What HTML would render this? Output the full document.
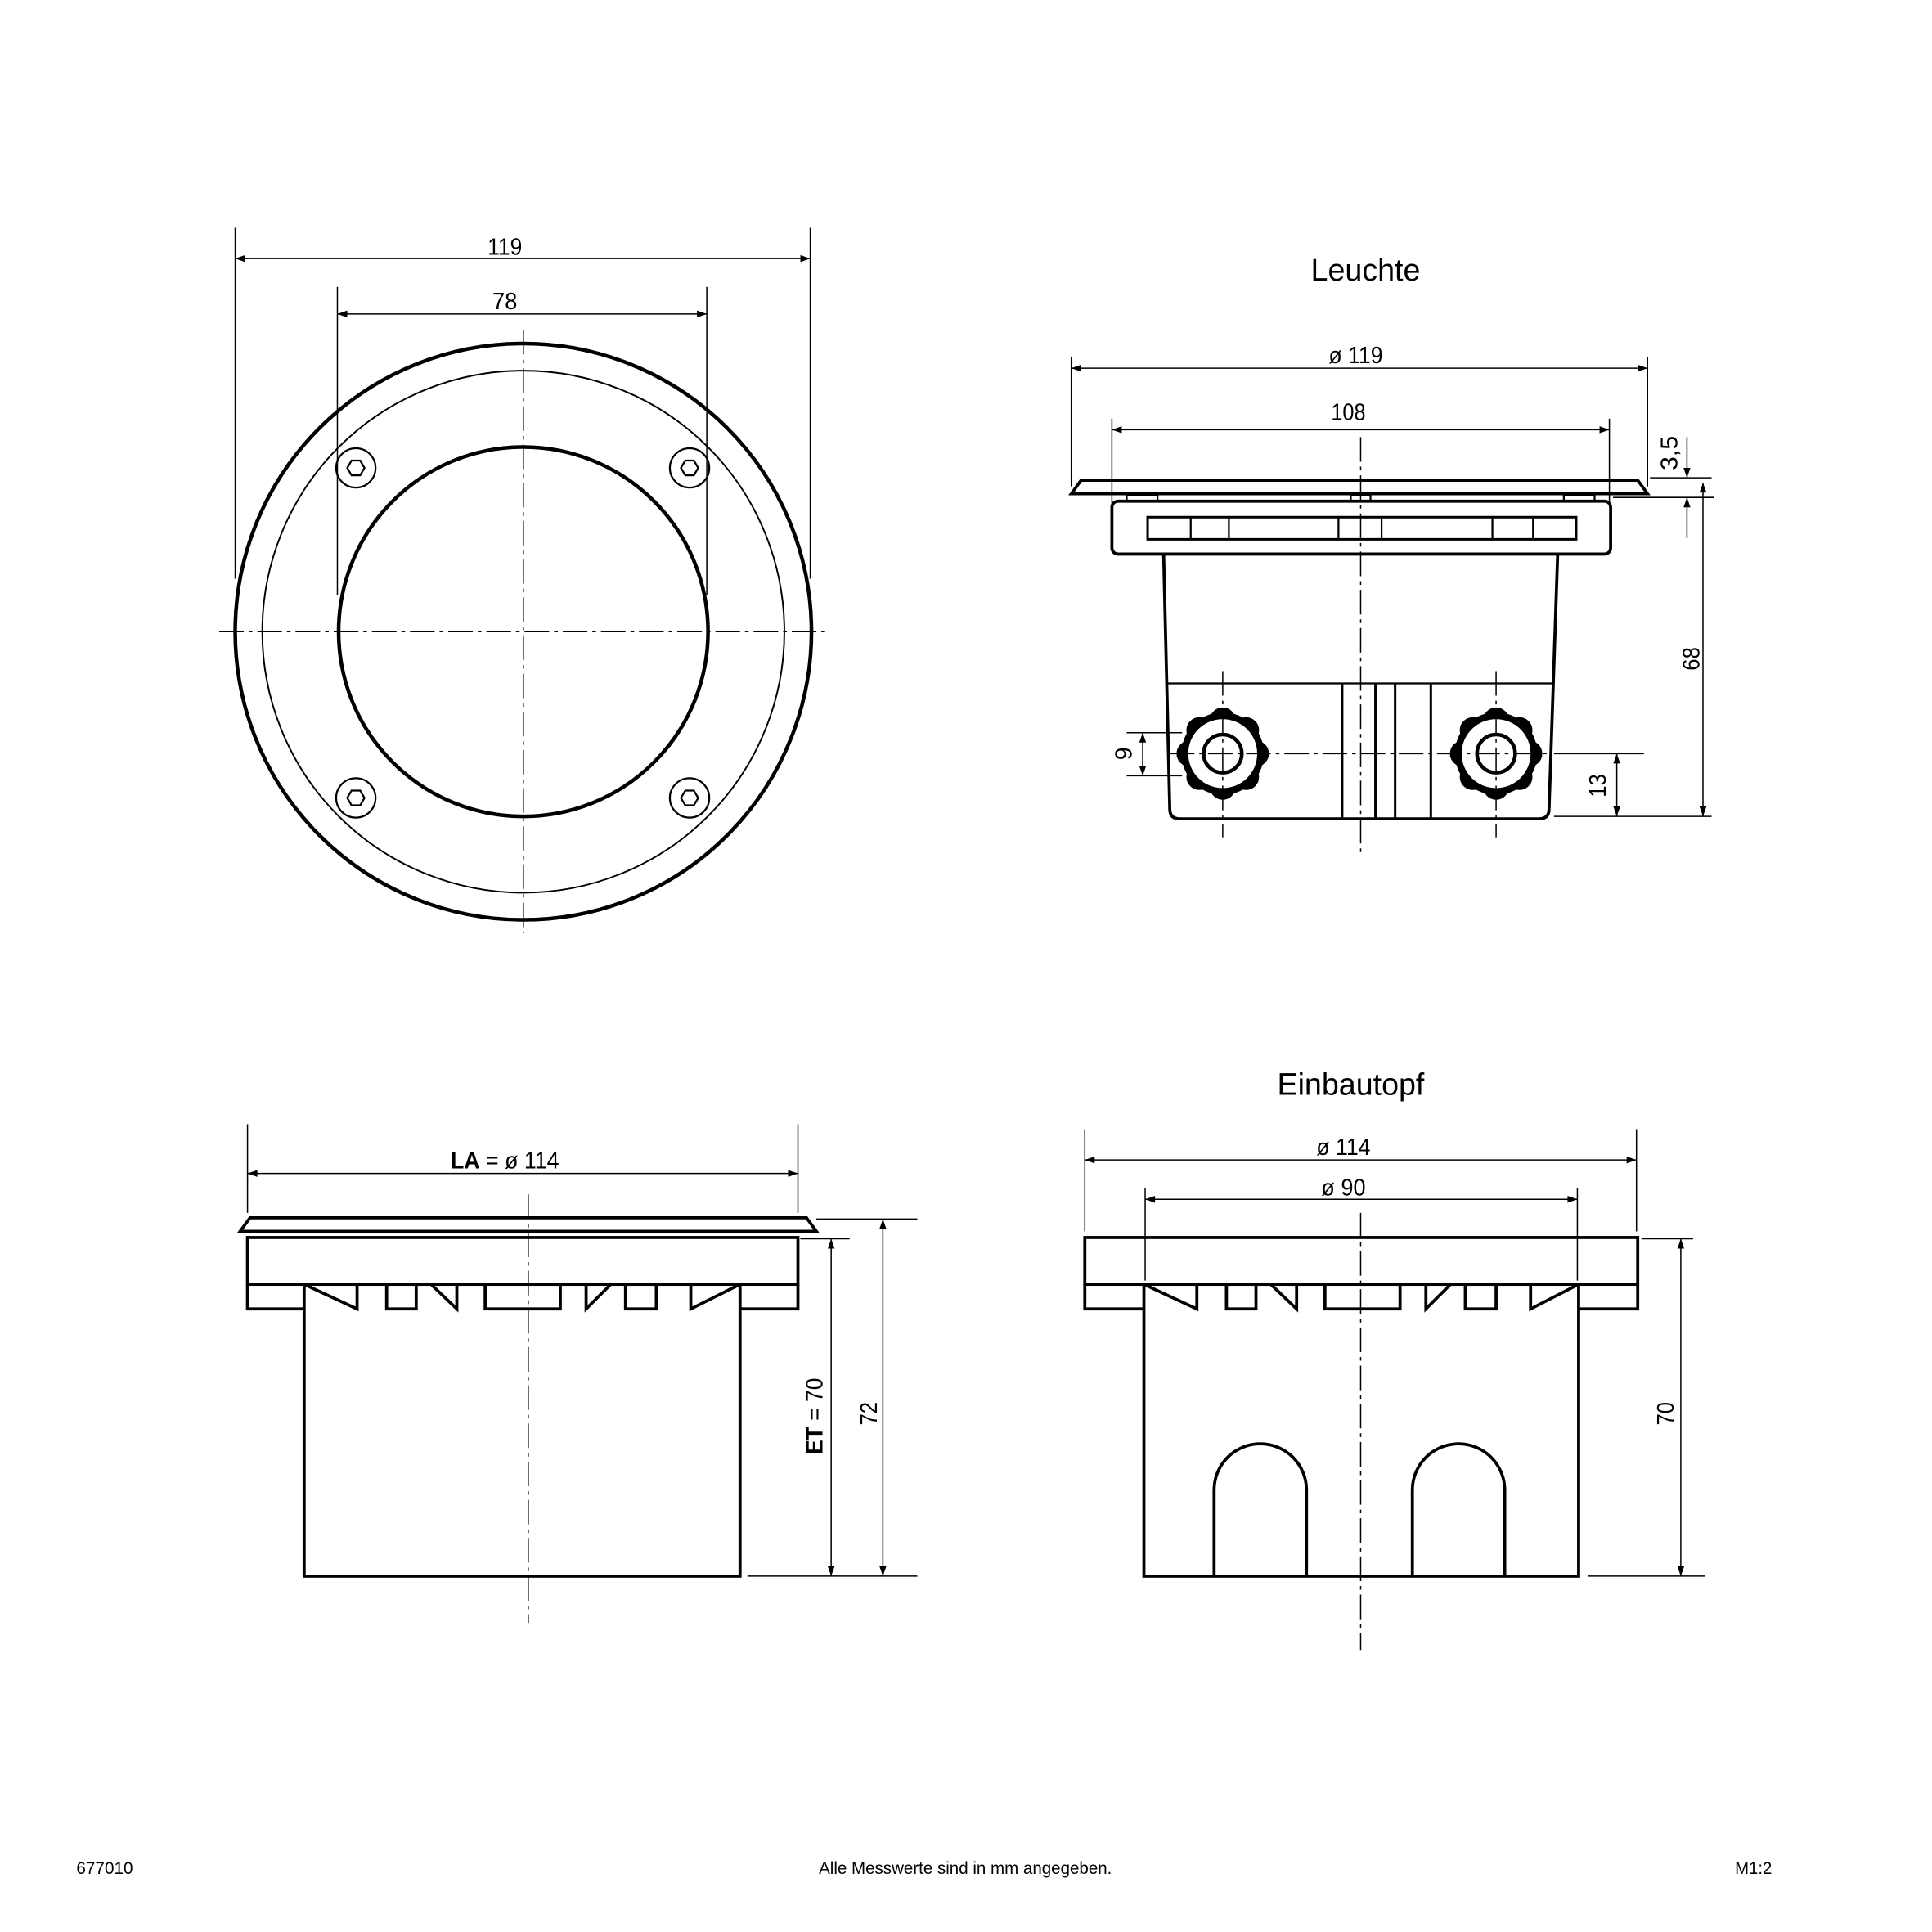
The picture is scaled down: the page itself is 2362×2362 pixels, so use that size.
<!DOCTYPE html>
<html><head><style>html,body{margin:0;padding:0;background:#fff}svg{display:block}</style></head><body>
<svg xmlns="http://www.w3.org/2000/svg" width="2362" height="2362" viewBox="0 0 1569 1569" font-family="Liberation Sans, sans-serif">
<defs>
<marker id="a" viewBox="0 0 10 10" refX="10" refY="5" markerWidth="10" markerHeight="8" orient="auto-start-reverse" markerUnits="userSpaceOnUse"><path d="M0,1.5 L10,5 L0,8.5 z" fill="#000"/></marker>
<g id="gland">
<circle r="33" fill="#000"/>
<g fill="#000">
<circle cx="0" cy="-27" r="10"/><circle cx="19" cy="-19" r="10"/><circle cx="27" cy="0" r="10"/><circle cx="19" cy="19" r="10"/>
<circle cx="0" cy="27" r="10"/><circle cx="-19" cy="19" r="10"/><circle cx="-27" cy="0" r="10"/><circle cx="-19" cy="-19" r="10"/>
</g>
<circle r="28" fill="#fff" stroke="none"/>
<circle r="15.5" fill="none" stroke="#000" stroke-width="3"/>
</g>
</defs>
<g fill="none" stroke="#000">
<g stroke-width="1">
<line x1="191" y1="185" x2="191" y2="470"/><line x1="658" y1="185" x2="658" y2="470"/>
<line x1="191" y1="210" x2="658" y2="210" marker-start="url(#a)" marker-end="url(#a)"/>
<line x1="274" y1="233" x2="274" y2="483"/><line x1="574" y1="233" x2="574" y2="483"/>
<line x1="274" y1="255" x2="574" y2="255" marker-start="url(#a)" marker-end="url(#a)"/>
<line x1="178" y1="513" x2="670" y2="513" stroke-dasharray="20,4,3,4"/>
<line x1="425" y1="268" x2="425" y2="758" stroke-dasharray="20,4,3,4"/>
</g>
<circle cx="425" cy="513" r="234" stroke-width="3"/>
<circle cx="425" cy="513" r="212" stroke-width="1.3"/>
<circle cx="425" cy="513" r="150" stroke-width="3"/>
<g stroke-width="1.5">
<circle cx="289" cy="380" r="16"/><circle cx="560" cy="380" r="16"/><circle cx="289" cy="648" r="16"/><circle cx="560" cy="648" r="16"/>
<polygon points="296,380 292.5,386 285.5,386 282,380 285.5,374 292.5,374"/>
<polygon points="567,380 563.5,386 556.5,386 553,380 556.5,374 563.5,374"/>
<polygon points="296,648 292.5,654 285.5,654 282,648 285.5,642 292.5,642"/>
<polygon points="567,648 563.5,654 556.5,654 553,648 556.5,642 563.5,642"/>
</g>

<g stroke-width="1">
<line x1="870" y1="290" x2="870" y2="395"/><line x1="1338" y1="290" x2="1338" y2="395"/>
<line x1="870" y1="299" x2="1338" y2="299" marker-start="url(#a)" marker-end="url(#a)"/>
<line x1="903" y1="340" x2="903" y2="410"/><line x1="1307" y1="340" x2="1307" y2="410"/>
<line x1="903" y1="349" x2="1307" y2="349" marker-start="url(#a)" marker-end="url(#a)"/>
<line x1="1340" y1="388" x2="1390" y2="388"/><line x1="1310" y1="404" x2="1392" y2="404"/><line x1="1262" y1="663" x2="1390" y2="663"/>
<line x1="1370" y1="355" x2="1370" y2="388" marker-end="url(#a)"/>
<line x1="1370" y1="437" x2="1370" y2="404" marker-end="url(#a)"/>
<line x1="1383" y1="392" x2="1383" y2="663" marker-start="url(#a)" marker-end="url(#a)"/>
<line x1="1313" y1="612" x2="1313" y2="663" marker-start="url(#a)" marker-end="url(#a)"/>
<line x1="915" y1="595" x2="960" y2="595"/><line x1="915" y1="630" x2="960" y2="630"/>
<line x1="928" y1="595" x2="928" y2="630" marker-start="url(#a)" marker-end="url(#a)"/>
<line x1="1262" y1="612" x2="1335" y2="612"/>
</g>
<path d="M870,401 L878,390 L1330,390 L1338,401 Z" stroke-width="2.5"/>
<rect x="903" y="407" width="405" height="43" rx="5" stroke-width="2.5"/>
<rect x="932" y="420" width="348" height="18" stroke-width="2"/>
<g stroke-width="1.5"><line x1="967" y1="420" x2="967" y2="438"/><line x1="998" y1="420" x2="998" y2="438"/><line x1="1087" y1="420" x2="1087" y2="438"/><line x1="1122" y1="420" x2="1122" y2="438"/><line x1="1212" y1="420" x2="1212" y2="438"/><line x1="1245" y1="420" x2="1245" y2="438"/>
<rect x="915" y="402" width="25" height="5"/><rect x="1270" y="402" width="25" height="5"/><rect x="1097" y="402" width="16" height="5"/></g>
<path d="M945,450 L950,657 Q950,665 958,665 L1250,665 Q1258,665 1258,657 L1265,450" stroke-width="2.5"/>
<line x1="948" y1="555" x2="1262" y2="555" stroke-width="1.5"/>
<g stroke-width="2"><line x1="1090" y1="555" x2="1090" y2="665"/><line x1="1162" y1="555" x2="1162" y2="665"/><line x1="1117" y1="555" x2="1117" y2="665"/><line x1="1133" y1="555" x2="1133" y2="665"/></g>
<use href="#gland" x="993" y="612"/>
<use href="#gland" x="1215" y="612"/>
<g stroke-width="1">
<line x1="950" y1="612" x2="1260" y2="612" stroke-dasharray="20,4,3,4"/>
<line x1="1105" y1="355" x2="1105" y2="695" stroke-dasharray="20,4,3,4"/>
<line x1="993" y1="545" x2="993" y2="680" stroke-dasharray="20,4,3,4"/>
<line x1="1215" y1="545" x2="1215" y2="680" stroke-dasharray="20,4,3,4"/>
</g>

<g stroke-width="1">
<line x1="201" y1="913" x2="201" y2="985"/><line x1="648" y1="913" x2="648" y2="985"/>
<line x1="201" y1="953" x2="648" y2="953" marker-start="url(#a)" marker-end="url(#a)"/>
<line x1="663" y1="990" x2="745" y2="990"/><line x1="650" y1="1006" x2="690" y2="1006"/><line x1="607" y1="1280" x2="745" y2="1280"/>
<line x1="675" y1="1006" x2="675" y2="1280" marker-start="url(#a)" marker-end="url(#a)"/>
<line x1="717" y1="990" x2="717" y2="1280" marker-start="url(#a)" marker-end="url(#a)"/>
<line x1="429" y1="970" x2="429" y2="1318" stroke-dasharray="20,4,3,4"/>
</g>
<path d="M195,1000 L203,989 L655,989 L663,1000 Z" stroke-width="2.5"/>
<rect x="201" y="1005" width="447" height="38" stroke-width="2.5"/>
<g stroke-width="2.5">
<path d="M201,1043 L201,1063 L247,1063"/><path d="M648,1043 L648,1063 L601,1063"/>
<rect x="247" y="1043" width="354" height="237"/>
<path d="M247,1043 L290,1063 L290,1043"/><path d="M350,1043 L371,1063 L371,1043"/><path d="M496,1043 L476,1063 L476,1043"/><path d="M601,1043 L561,1063 L561,1043"/>
<path d="M314,1043 L314,1063 L338,1063 L338,1043"/><path d="M394,1043 L394,1063 L455,1063 L455,1043"/><path d="M508,1043 L508,1063 L533,1063 L533,1043"/>
</g>

<g stroke-width="1">
<line x1="881" y1="917" x2="881" y2="1000"/><line x1="1329" y1="917" x2="1329" y2="1000"/>
<line x1="881" y1="942" x2="1329" y2="942" marker-start="url(#a)" marker-end="url(#a)"/>
<line x1="930" y1="965" x2="930" y2="1040"/><line x1="1281" y1="965" x2="1281" y2="1040"/>
<line x1="930" y1="974" x2="1281" y2="974" marker-start="url(#a)" marker-end="url(#a)"/>
<line x1="1333" y1="1006" x2="1375" y2="1006"/><line x1="1290" y1="1280" x2="1385" y2="1280"/>
<line x1="1365" y1="1006" x2="1365" y2="1280" marker-start="url(#a)" marker-end="url(#a)"/>
<line x1="1105" y1="985" x2="1105" y2="1340" stroke-dasharray="20,4,3,4"/>
</g>
<rect x="881" y="1005" width="449" height="38" stroke-width="2.5"/>
<g stroke-width="2.5">
<path d="M881,1043 L881,1063 L929,1063"/><path d="M1330,1043 L1330,1063 L1282,1063"/>
<rect x="929" y="1043" width="353" height="237"/>
<path d="M929,1043 L972,1063 L972,1043"/><path d="M1032,1043 L1053,1063 L1053,1043"/><path d="M1178,1043 L1158,1063 L1158,1043"/><path d="M1282,1043 L1243,1063 L1243,1043"/>
<path d="M996,1043 L996,1063 L1020,1063 L1020,1043"/><path d="M1076,1043 L1076,1063 L1137,1063 L1137,1043"/><path d="M1190,1043 L1190,1063 L1215,1063 L1215,1043"/>
</g>
<path d="M986,1280 L986,1210 A37.5,37.5 0 0 1 1061,1210 L1061,1280" stroke-width="2.5"/>
<path d="M1147,1280 L1147,1210 A37.5,37.5 0 0 1 1222,1210 L1222,1280" stroke-width="2.5"/>
</g>

<g fill="#000" font-size="19" text-anchor="middle">
<text x="410" y="207" textLength="28" lengthAdjust="spacingAndGlyphs">119</text>
<text x="410" y="251" textLength="20" lengthAdjust="spacingAndGlyphs">78</text>
<text x="1109" y="228" font-size="25">Leuchte</text>
<text x="1101" y="295" textLength="44" lengthAdjust="spacingAndGlyphs">ø 119</text>
<text x="1095" y="341" textLength="28" lengthAdjust="spacingAndGlyphs">108</text>
<text x="1097" y="889" font-size="25">Einbautopf</text>
<text x="1091" y="938" textLength="44" lengthAdjust="spacingAndGlyphs">ø 114</text>
<text x="1091" y="971" textLength="36" lengthAdjust="spacingAndGlyphs">ø 90</text>
<text x="410" y="949" textLength="88" lengthAdjust="spacingAndGlyphs"><tspan font-weight="bold">LA</tspan> = ø 114</text>
<text transform="translate(919,612) rotate(-90)">9</text>
<text transform="translate(1304,638) rotate(-90)" textLength="19" lengthAdjust="spacingAndGlyphs">13</text>
<text transform="translate(1380,535) rotate(-90)" textLength="19" lengthAdjust="spacingAndGlyphs">68</text>
<text transform="translate(1362,368) rotate(-90)" textLength="28" lengthAdjust="spacingAndGlyphs">3,5</text>
<text transform="translate(668,1150) rotate(-90)" textLength="62" lengthAdjust="spacingAndGlyphs"><tspan font-weight="bold">ET</tspan> = 70</text>
<text transform="translate(712,1148) rotate(-90)" textLength="19" lengthAdjust="spacingAndGlyphs">72</text>
<text transform="translate(1359,1148) rotate(-90)" textLength="19" lengthAdjust="spacingAndGlyphs">70</text>
<g font-size="14">
<text x="85" y="1522" textLength="46" lengthAdjust="spacingAndGlyphs">677010</text>
<text x="784" y="1522" textLength="238" lengthAdjust="spacingAndGlyphs">Alle Messwerte sind in mm angegeben.</text>
<text x="1424" y="1522" textLength="30" lengthAdjust="spacingAndGlyphs">M1:2</text>
</g>
</g>
</svg>
</body></html>
